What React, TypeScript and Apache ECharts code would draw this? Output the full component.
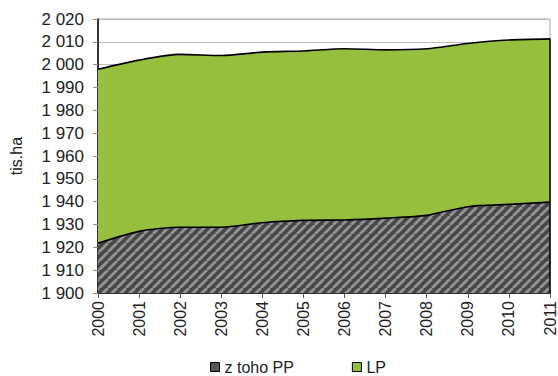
import React, { useEffect, useRef } from "react";
import * as echarts from "echarts";

const years = ["2000", "2001", "2002", "2003", "2004", "2005", "2006", "2007", "2008", "2009", "2010", "2011"];
const lpValues = [1998, 2002, 2004.5, 2004, 2005.5, 2006, 2007, 2006.5, 2007, 2009.3, 2010.8, 2011.3];
const ppValues = [1921.8, 1927, 1928.8, 1928.8, 1930.8, 1931.8, 1932, 1932.8, 1934, 1937.8, 1938.8, 1939.8];
const seriesNames = ["z toho PP", "LP"];
const yMin = 1900;
const yMax = 2020;
const yStep = 10;

function makeHatch(): HTMLCanvasElement {
  const s = 9;
  const c = document.createElement("canvas");
  c.width = s;
  c.height = s;
  const ctx = c.getContext("2d")!;
  ctx.fillStyle = "#474747";
  ctx.fillRect(0, 0, s, s);
  ctx.strokeStyle = "#939393";
  ctx.lineWidth = 2.8;
  for (const off of [-s, 0, s]) {
    ctx.beginPath();
    ctx.moveTo(off, s);
    ctx.lineTo(off + s, 0);
    ctx.stroke();
  }
  return c;
}

const fmt = (v: number) => String(v).replace(/\B(?=(\d{3})+(?!\d))/g, " ");

export default function App() {
  const ref = useRef<HTMLDivElement>(null);
  useEffect(() => {
    if (!ref.current) return;
    const chart = echarts.init(ref.current, null, { renderer: "svg" });
    const hatch = makeHatch();
    const green = "#96bf3d";
    const font = "'Liberation Sans', Arial, sans-serif";
    chart.setOption({
      animation: false,
      backgroundColor: "#ffffff",
      grid: {
        left: 96,
        right: 6,
        top: 19,
        bottom: 83,
        show: true,
        borderColor: "#a8a8a8",
        borderWidth: 1,
      },
      legend: {
        left: 205,
        top: 354,
        itemWidth: 9,
        itemHeight: 9,
        itemGap: 58,
        icon: "rect",
        textStyle: { fontFamily: font, fontSize: 16, color: "#222" },
        data: [
          { name: seriesNames[0], itemStyle: { color: "#555", borderColor: "#000", borderWidth: 1 } },
          { name: seriesNames[1], itemStyle: { color: green, borderColor: "#000", borderWidth: 1 } },
        ],
      },
      xAxis: {
        type: "category",
        data: years,
        boundaryGap: false,
        axisLine: { show: true, lineStyle: { color: "#000", width: 1.5 } },
        axisTick: { show: true, alignWithLabel: true, length: 5, lineStyle: { color: "#555" } },
        axisLabel: { rotate: 90, fontFamily: font, fontSize: 16, color: "#222", margin: 8 },
        splitLine: { show: false },
      },
      yAxis: {
        type: "value",
        min: yMin,
        max: yMax,
        interval: yStep,
        name: "tis.ha",
        nameLocation: "middle",
        nameGap: 74,
        nameTextStyle: { fontFamily: font, fontSize: 16, color: "#222" },
        axisLine: { show: true, lineStyle: { color: "#000", width: 1.5 } },
        axisTick: { show: true, length: 5, lineStyle: { color: "#888" } },
        axisLabel: { fontFamily: font, fontSize: 17, color: "#222", margin: 14, formatter: fmt },
        splitLine: { show: true, lineStyle: { color: "#bdbdbd", width: 1 } },
      },
      series: [
        {
          name: seriesNames[1],
          type: "line",
          data: lpValues,
          smooth: 0.25,
          showSymbol: false,
          symbol: "none",
          lineStyle: { color: "#000", width: 1.6 },
          itemStyle: { color: green },
          areaStyle: { color: green, opacity: 1, origin: "start" },
          markLine: {
            silent: true,
            symbol: "none",
            label: { show: false },
            lineStyle: { color: "#000", width: 1.5, type: "solid" },
            data: [
              [
                { coord: [years[years.length - 1], yMin] },
                { coord: [years[years.length - 1], lpValues[lpValues.length - 1]] },
              ],
            ],
          },
          z: 2,
        },
        {
          name: seriesNames[0],
          type: "line",
          data: ppValues,
          smooth: 0.25,
          showSymbol: false,
          symbol: "none",
          lineStyle: { color: "#000", width: 1.6 },
          itemStyle: { color: "#555" },
          areaStyle: {
            color: { image: hatch, repeat: "repeat", imageWidth: 9, imageHeight: 9 },
            opacity: 1,
            origin: "start",
          },
          z: 3,
        },
      ],
    });
    return () => chart.dispose();
  }, []);
  return <div ref={ref} style={{ width: 558, height: 376, position: "absolute", left: 0, top: 0 }} />;
}
